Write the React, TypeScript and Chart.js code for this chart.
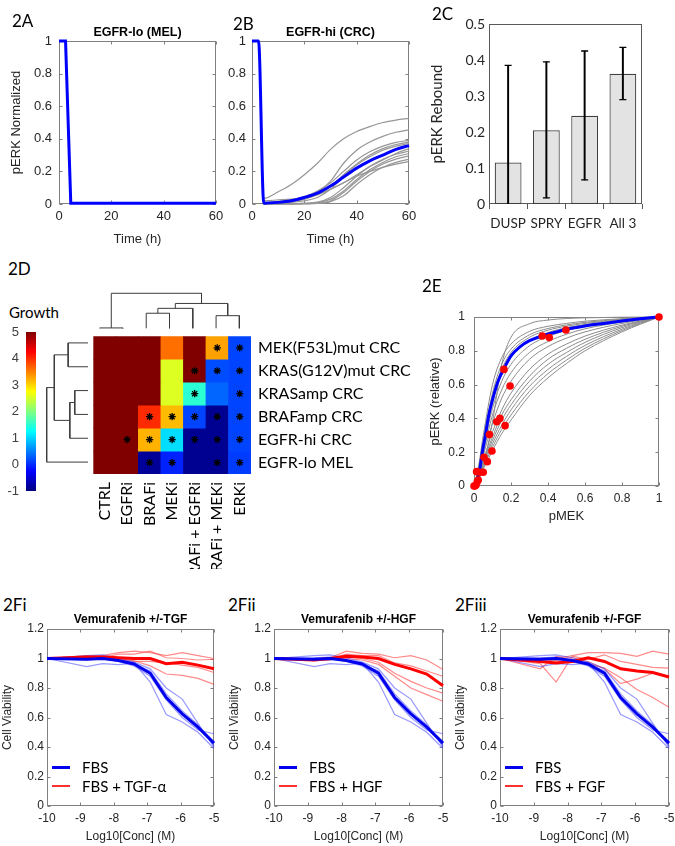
import React, { useEffect, useRef } from 'react';
import { Chart, registerables } from 'chart.js';

const ML_FONT = "'Liberation Sans', Arial, Helvetica, sans-serif";
const CAL_FONT = "Lato, 'Open Sans', sans-serif";
const TXT = '#262626';
const BOX = '#808080';

// ---------------- 2A / 2B : pERK time courses ----------------
const timeLo = [0, 2.5, 4.5, 60];
const perkLo = [1, 1, 0.005, 0.005];
const timeHi = [0, 2.5, 4.5, 10, 15, 20, 25, 30, 35, 40, 45, 50, 55, 60];
const perkHiBest = [1, 1, 0.005, 0.01, 0.02, 0.04, 0.066, 0.11, 0.165, 0.22, 0.265, 0.3, 0.335, 0.358];
const perkHiSims = [
  [1, 1, 0.035, 0.075, 0.12, 0.18, 0.25, 0.335, 0.4, 0.445, 0.475, 0.5, 0.515, 0.525],
  [1, 1, 0.005, 0.01, 0.02, 0.035, 0.07, 0.14, 0.25, 0.33, 0.38, 0.415, 0.44, 0.455],
  [1, 1, 0.01, 0.015, 0.025, 0.045, 0.08, 0.13, 0.2, 0.27, 0.32, 0.355, 0.378, 0.39],
  [1, 1, 0.005, 0.008, 0.015, 0.03, 0.06, 0.11, 0.18, 0.245, 0.3, 0.34, 0.365, 0.38],
  [1, 1, 0.003, 0.005, 0.01, 0.02, 0.04, 0.09, 0.17, 0.24, 0.29, 0.33, 0.355, 0.37],
  [1, 1, 0.02, 0.025, 0.03, 0.04, 0.06, 0.09, 0.13, 0.18, 0.23, 0.27, 0.31, 0.34],
  [1, 1, 0.0, 0.0, 0.002, 0.005, 0.012, 0.04, 0.1, 0.17, 0.23, 0.275, 0.305, 0.325],
  [1, 1, 0.0, 0.0, 0.001, 0.003, 0.008, 0.03, 0.08, 0.15, 0.21, 0.255, 0.29, 0.31],
  [1, 1, 0.0, 0.0, 0.0, 0.002, 0.005, 0.02, 0.07, 0.14, 0.2, 0.245, 0.275, 0.295],
  [1, 1, 0.0, 0.0, 0.0, 0.001, 0.003, 0.015, 0.05, 0.12, 0.18, 0.225, 0.255, 0.275],
  [1, 1, 0.01, 0.012, 0.018, 0.03, 0.055, 0.09, 0.13, 0.17, 0.2, 0.225, 0.245, 0.26],
];

// ---------------- 2C : pERK rebound ----------------
const reboundCats = ['DUSP', 'SPRY', 'EGFR', 'All 3'];
const reboundVals = [0.115, 0.205, 0.245, 0.362];
const reboundLo = [-0.155, 0.017, 0.067, 0.29];
const reboundHi = [0.385, 0.395, 0.425, 0.435];

// ---------------- 2D : growth heatmap ----------------
const drugs = ['CTRL', 'EGFRi', 'BRAFi', 'MEKi', 'BRAFi + EGFRi', 'BRAFi + MEKi', 'ERKi'];
const cellLines = ['MEK(F53L)mut CRC', 'KRAS(G12V)mut CRC', 'KRASamp CRC', 'BRAFamp CRC', 'EGFR-hi CRC', 'EGFR-lo MEL'];
const growth = [
  [5, 5, 5, 3.6, 5, 3.3, 0.15],
  [5, 5, 5, 2.55, 5, 0.2, 0.15],
  [5, 5, 5, 2.55, 1.5, 0.35, 0.15],
  [5, 5, 4.0, 3.15, 0.15, -0.9, 0.15],
  [5, 5, 3.2, 1.05, -0.9, -0.9, 0.15],
  [5, 5, -0.85, -0.05, -0.9, -0.9, 0.1],
];
const significant = [
  [0, 0, 0, 0, 0, 1, 1],
  [0, 0, 0, 0, 1, 1, 1],
  [0, 0, 0, 0, 1, 0, 1],
  [0, 0, 1, 1, 1, 1, 1],
  [0, 1, 1, 1, 1, 1, 1],
  [0, 0, 1, 1, 0, 1, 1],
];
const growthMin = -1;
const growthMax = 5;
// dendrogram links: [pos1, height1, pos2, height2, mergeHeight]
const drugLinks = [
  [0, 0, 1, 0, 0.01],
  [2, 0, 3, 0, 0.43],
  [2.5, 0.43, 4, 0, 0.57],
  [5, 0, 6, 0, 0.36],
  [3.25, 0.57, 5.5, 0.36, 0.71],
  [0.5, 0.01, 4.375, 0.71, 1.0],
];
// row positions counted from the bottom row (EGFR-lo MEL = 0.5)
const cellLinks = [
  [5.5, 0, 4.5, 0, 0.48],
  [3.5, 0, 2.5, 0, 0.32],
  [3.0, 0.32, 1.5, 0, 0.44],
  [5.0, 0.48, 2.25, 0.44, 0.816],
  [3.625, 0.816, 0.5, 0, 1.0],
];

// ---------------- 2E : pERK vs pMEK ----------------
const pmekFitGrid = [0, 0.025, 0.05, 0.1, 0.15, 0.2, 0.3, 0.4, 0.5, 0.6, 0.8, 1];
const perkFits = [
  [0, 0.04, 0.12, 0.38, 0.72, 0.88, 0.96, 0.982, 0.991, 0.995, 0.999, 1],
  [0, 0.12, 0.3, 0.6, 0.76, 0.84, 0.915, 0.945, 0.962, 0.975, 0.99, 1],
  [0, 0.1, 0.27, 0.55, 0.72, 0.81, 0.895, 0.932, 0.953, 0.968, 0.987, 1],
  [0, 0.1, 0.26, 0.53, 0.69, 0.79, 0.88, 0.922, 0.946, 0.962, 0.984, 1],
  [0, 0.09, 0.24, 0.5, 0.66, 0.76, 0.86, 0.908, 0.937, 0.955, 0.981, 1],
  [0, 0.09, 0.22, 0.46, 0.62, 0.72, 0.83, 0.885, 0.92, 0.945, 0.976, 1],
  [0, 0.08, 0.2, 0.42, 0.57, 0.67, 0.79, 0.855, 0.898, 0.93, 0.97, 1],
  [0, 0.07, 0.18, 0.37, 0.52, 0.62, 0.75, 0.825, 0.875, 0.912, 0.962, 1],
  [0, 0.06, 0.15, 0.32, 0.45, 0.55, 0.69, 0.78, 0.84, 0.887, 0.952, 1],
  [0, 0.06, 0.14, 0.29, 0.42, 0.51, 0.65, 0.75, 0.815, 0.868, 0.945, 1],
  [0, 0.05, 0.13, 0.27, 0.39, 0.48, 0.62, 0.72, 0.79, 0.85, 0.937, 1],
  [0, 0.05, 0.12, 0.25, 0.36, 0.45, 0.59, 0.69, 0.767, 0.832, 0.928, 1],
  [0, 0.045, 0.11, 0.23, 0.335, 0.42, 0.56, 0.665, 0.745, 0.815, 0.92, 1],
  [0, 0.04, 0.1, 0.21, 0.31, 0.39, 0.535, 0.64, 0.725, 0.8, 0.912, 1],
];
const pmekBestGrid = [0, 0.01, 0.02, 0.03, 0.045, 0.06, 0.08, 0.1, 0.13, 0.16, 0.2, 0.25, 0.3, 0.37, 0.45, 0.5, 0.6, 0.7, 0.8, 0.9, 1];
const perkBest = [0, 0.02, 0.05, 0.09, 0.2, 0.29, 0.42, 0.51, 0.62, 0.69, 0.77, 0.825, 0.86, 0.888, 0.913, 0.927, 0.947, 0.962, 0.976, 0.989, 1];
const pmekObs = [0, 0.005, 0.011, 0.018, 0.023, 0.014, 0.032, 0.05, 0.054, 0.072, 0.083, 0.097, 0.123, 0.14, 0.168, 0.162, 0.195, 0.369, 0.407, 0.497, 1];
const perkObs = [0, 0.0, 0.006, 0.026, 0.035, 0.085, 0.081, 0.081, 0.17, 0.144, 0.304, 0.207, 0.38, 0.4, 0.357, 0.69, 0.592, 0.888, 0.878, 0.923, 1];

// ---------------- 2F : viability vs vemurafenib ----------------
const logConc = [-10, -8.81, -8.34, -7.86, -7.39, -6.91, -6.43, -5.95, -5.48, -5];
const fbsMean = [1, 0.995, 1.0, 0.987, 0.963, 0.9, 0.735, 0.625, 0.535, 0.426];
const fbsReps = [
  [1, 0.945, 0.965, 0.958, 0.968, 0.84, 0.62, 0.57, 0.5, 0.39],
  [1, 1.02, 1.025, 1.005, 0.975, 0.93, 0.8, 0.725, 0.56, 0.4],
  [1, 0.99, 1.0, 0.98, 0.95, 0.88, 0.72, 0.6, 0.515, 0.49],
  [1, 1.005, 1.01, 0.99, 0.96, 0.915, 0.76, 0.645, 0.55, 0.41],
];
const tgfMean = [1, 1.01, 1.01, 1.005, 1.0, 1.0, 0.965, 0.975, 0.955, 0.93];
const tgfReps = [
  [1, 1.02, 1.02, 1.04, 1.05, 1.04, 1.02, 1.04, 1.02, 1.0],
  [1, 1.0, 1.005, 1.03, 1.03, 1.05, 1.005, 1.0, 0.99, 0.995],
  [1, 1.01, 1.0, 1.0, 0.985, 0.95, 0.895, 0.885, 0.865, 0.825],
  [1, 1.005, 1.01, 0.99, 0.98, 0.98, 0.97, 0.955, 0.94, 0.905],
];
const hgfMean = [1, 0.99, 1.0, 1.015, 1.01, 1.0, 0.96, 0.93, 0.895, 0.815];
const hgfReps = [
  [1, 1.0, 1.005, 1.05, 1.035, 1.03, 1.005, 1.02, 0.99, 0.925],
  [1, 0.99, 1.0, 1.03, 1.02, 1.02, 0.97, 0.95, 0.915, 0.88],
  [1, 0.985, 0.99, 1.01, 1.0, 0.975, 0.9, 0.845, 0.8, 0.765],
  [1, 0.99, 1.0, 1.0, 0.99, 0.96, 0.88, 0.8, 0.755, 0.71],
];
const fgfMean = [1, 0.98, 0.97, 0.98, 1.005, 0.98, 0.93, 0.915, 0.905, 0.875];
const fgfReps = [
  [1, 1.0, 1.0, 1.02, 1.04, 1.04, 1.035, 1.015, 1.05, 1.03],
  [1, 0.965, 0.84, 1.015, 0.995, 1.025, 0.98, 0.96, 0.94, 0.935],
  [1, 0.93, 1.015, 1.005, 0.98, 0.93, 0.83, 0.86, 0.9, 0.875],
  [1, 0.98, 0.985, 0.975, 0.965, 0.935, 0.87, 0.79, 0.735, 0.67],
];

// ---------------- helpers ----------------
const framePlugin = {
  id: 'frame',
  beforeDatasetsDraw(chart: any, _args: any, opts: any) {
    if (!opts || !opts.color) return;
    const { ctx, chartArea: a } = chart;
    const l = Math.round(a.left) + 0.5;
    const t = Math.round(a.top) + 0.5;
    const r = Math.round(a.right) - 0.5;
    const b = Math.round(a.bottom) - 0.5;
    ctx.save();
    ctx.strokeStyle = opts.color;
    ctx.lineWidth = 1;
    ctx.strokeRect(l, t, r - l, b - t);
    const len = opts.tickLen || 0;
    if (len > 0) {
      ctx.beginPath();
      const xs = chart.scales.x;
      const ys = chart.scales.y;
      xs.ticks.forEach((tk: any) => {
        const px = Math.round(xs.getPixelForValue(tk.value)) + 0.5;
        ctx.moveTo(px, b); ctx.lineTo(px, b - len);
        ctx.moveTo(px, t); ctx.lineTo(px, t + len);
      });
      ys.ticks.forEach((tk: any) => {
        const py = Math.round(ys.getPixelForValue(tk.value)) + 0.5;
        ctx.moveTo(l, py); ctx.lineTo(l + len, py);
        ctx.moveTo(r, py); ctx.lineTo(r - len, py);
      });
      ctx.stroke();
    }
    ctx.restore();
  },
};

Chart.register(...registerables, framePlugin);

function jetRGB(v: number): string {
  const t = Math.min(1, Math.max(0, (v - growthMin) / (growthMax - growthMin)));
  const c = (x: number) => Math.round(255 * Math.min(1, Math.max(0, x)));
  const r = c(1.5 - Math.abs(4 * t - 3));
  const g = c(1.5 - Math.abs(4 * t - 2));
  const b = c(1.5 - Math.abs(4 * t - 1));
  return `rgb(${r},${g},${b})`;
}

const fixW = (w: number) => (s: any) => {
  s.width = w; s.paddingTop = 0; s.paddingBottom = 0; s.paddingLeft = 0; s.paddingRight = 0;
};
const fixH = (h: number) => (s: any) => {
  s.height = h; s.paddingLeft = 0; s.paddingRight = 0; s.paddingTop = 0; s.paddingBottom = 0;
};
const plainNum = (v: any) => String(Math.round(Number(v) * 1000) / 1000);

function mlLinear(o: any) {
  return {
    type: 'linear',
    min: o.min,
    max: o.max,
    reverse: !!o.reverse,
    display: o.display ?? true,
    position: o.position,
    grid: { display: false, drawTicks: false },
    border: { display: false },
    ticks: {
      stepSize: o.step,
      color: o.color ?? TXT,
      font: { family: o.family ?? ML_FONT, size: o.size ?? 12 },
      padding: o.pad ?? 4,
      maxRotation: 0,
      autoSkip: false,
      callback: plainNum,
    },
    title: o.title
      ? { display: true, text: o.title, color: TXT, font: { family: o.titleFamily ?? ML_FONT, size: o.titleSize ?? o.size }, padding: { top: o.titlePad ?? 0, bottom: o.titlePad ?? 0 } }
      : { display: false },
    afterFit: o.fit,
  };
}

function baseOptions(padding: any, extra: any = {}) {
  return {
    responsive: false,
    animation: false,
    events: [],
    layout: { padding },
    plugins: { legend: { display: false }, tooltip: { enabled: false }, title: { display: false }, ...extra },
  };
}

function xyLine(xs: number[], ys: number[], color: string, width: number, extra: any = {}) {
  return {
    data: xs.map((x, i) => ({ x, y: ys[i] })),
    showLine: true,
    borderColor: color,
    backgroundColor: color,
    borderWidth: width,
    pointRadius: 0,
    clip: false,
    ...extra,
  };
}

type Spec = { id: string; x: number; y: number; w: number; h: number; make: () => any };

function box(area: { l: number; t: number; w: number; h: number }, m: { l: number; t: number; r: number; b: number }) {
  return { x: area.l - m.l, y: area.t - m.t, w: m.l + area.w + m.r, h: m.t + area.h + m.b };
}

// ---------- 2A ----------
const aBox = box({ l: 59, t: 41, w: 157, h: 163 }, { l: 59, t: 12, r: 10, b: 43 });
const specA: Spec = {
  id: 'A', ...aBox,
  make: () => ({
    type: 'scatter',
    data: { datasets: [xyLine(timeLo, perkLo, '#0000ff', 3)] },
    options: {
      ...baseOptions({ left: 0, top: 12, right: 10, bottom: 0 }, { frame: { color: BOX, tickLen: 3 } }),
      scales: {
        x: mlLinear({ min: 0, max: 60, step: 20, size: 13, pad: 5, fit: fixH(43), title: 'Time (h)' }),
        y: mlLinear({ min: 0, max: 1, step: 0.2, size: 13, pad: 7, fit: fixW(59), title: 'pERK Normalized', titlePad: 9 }),
      },
    },
  }),
};

// ---------- 2B ----------
const bBox = box({ l: 252, t: 41, w: 157, h: 163 }, { l: 40, t: 12, r: 10, b: 43 });
const specB: Spec = {
  id: 'B', ...bBox,
  make: () => ({
    type: 'scatter',
    data: {
      datasets: [
        xyLine(timeHi, perkHiBest, '#0000ff', 3, { cubicInterpolationMode: 'monotone' }),
        ...perkHiSims.map((s) => xyLine(timeHi, s, '#969696', 1.2, { cubicInterpolationMode: 'monotone' })),
      ],
    },
    options: {
      ...baseOptions({ left: 0, top: 12, right: 10, bottom: 0 }, { frame: { color: BOX, tickLen: 3 } }),
      scales: {
        x: mlLinear({ min: 0, max: 60, step: 20, size: 13, pad: 5, fit: fixH(43), title: 'Time (h)' }),
        y: mlLinear({ min: 0, max: 1, step: 0.2, size: 13, pad: 6, fit: fixW(40) }),
      },
    },
  }),
};

// ---------- 2C ----------
const cBox = box({ l: 489, t: 24, w: 153, h: 180 }, { l: 64, t: 10, r: 12, b: 35 });
const specC: Spec = {
  id: 'C', ...cBox,
  make: () => ({
    type: 'bar',
    data: {
      labels: reboundCats,
      datasets: [
        {
          type: 'scatter',
          data: [
            ...reboundCats.map((c, i) => ({ x: c, y: reboundHi[i] })),
            ...reboundCats.map((c, i) => ({ x: c, y: reboundLo[i] })),
          ],
          pointStyle: 'line',
          pointRadius: 3.5,
          pointBorderWidth: 1.3,
          pointBorderColor: '#000',
          pointBackgroundColor: '#000',
        },
        {
          data: reboundCats.map((_, i) => [reboundLo[i], reboundHi[i]]),
          backgroundColor: '#000',
          borderWidth: 0,
          barThickness: 1.3,
          grouped: false,
        },
        {
          data: reboundVals,
          backgroundColor: '#e3e3e3',
          borderColor: '#404040',
          borderWidth: 1.2,
          borderSkipped: false,
          barPercentage: 0.7,
          categoryPercentage: 1,
          grouped: false,
        },
      ],
    },
    options: {
      ...baseOptions({ left: 0, top: 10, right: 12, bottom: 0 }, { frame: { color: '#595959' } }),
      scales: {
        x: {
          type: 'category',
          offset: true,
          grid: { display: true, drawOnChartArea: false, drawTicks: true, tickLength: 5, color: '#595959', offset: true },
          border: { display: false },
          ticks: { color: TXT, font: { family: CAL_FONT, size: 13.5 }, padding: 7, maxRotation: 0, autoSkip: false },
          afterFit: fixH(35),
        },
        y: mlLinear({ min: 0, max: 0.5, step: 0.1, size: 14, family: CAL_FONT, pad: 4, fit: fixW(64), title: 'pERK Rebound', titleFamily: CAL_FONT, titleSize: 15, titlePad: 3 }),
      },
    },
  }),
};

// ---------- 2D colour bar ----------
const cbBox = box({ l: 26, t: 332, w: 10, h: 159 }, { l: 26, t: 8, r: 4, b: 8 });
const specCB: Spec = {
  id: 'CB', ...cbBox,
  make: () => ({
    type: 'bar',
    data: {
      labels: ['Growth'],
      datasets: [
        {
          data: [[growthMin, growthMax]],
          barPercentage: 1,
          categoryPercentage: 1,
          borderWidth: 0,
          backgroundColor: (c: any) => {
            const ch = c.chart;
            const ys = ch.scales.y;
            if (!ch.chartArea || !ys) return 'rgba(0,0,0,0)';
            const g = ch.ctx.createLinearGradient(0, ys.getPixelForValue(growthMin), 0, ys.getPixelForValue(growthMax));
            for (let i = 0; i <= 64; i++) {
              g.addColorStop(i / 64, jetRGB(growthMin + ((growthMax - growthMin) * i) / 64));
            }
            return g;
          },
        },
      ],
    },
    options: {
      ...baseOptions({ left: 0, top: 8, right: 4, bottom: 8 }, { frame: { color: '#505050' } }),
      scales: {
        x: { type: 'category', display: false },
        y: mlLinear({ min: growthMin, max: growthMax, step: 1, size: 13, pad: 7, fit: fixW(26), color: '#404040' }),
      },
    },
  }),
};

// ---------- 2D heatmap ----------
const hmBox = { x: 88, y: 331, w: 343, h: 238 };
const rowsBottomUp = [...cellLines].reverse();
const specHM: Spec = {
  id: 'HM', ...hmBox,
  make: () => {
    const starData: any[] = [];
    significant.forEach((row, r) => row.forEach((s, c) => {
      if (s) starData.push({ x: drugs[c], y: cellLines.length - 1 - r + 0.5 });
    }));
    return {
      type: 'bar',
      data: {
        labels: drugs,
        datasets: [
          {
            type: 'scatter',
            data: starData,
            pointStyle: 'star',
            pointRadius: 3.6,
            pointBorderWidth: 1.3,
            pointBorderColor: '#000',
            pointBackgroundColor: '#000',
          },
          ...growth.map((row, r) => ({
            data: drugs.map(() => [cellLines.length - 1 - r, cellLines.length - r]),
            backgroundColor: row.map((v) => jetRGB(v)),
            borderWidth: 0,
            barPercentage: 1,
            categoryPercentage: 1,
            grouped: false,
          })),
        ],
      },
      options: {
        ...baseOptions({ left: 0, top: 0, right: 0, bottom: 0 }),
        scales: {
          x: {
            type: 'category',
            offset: true,
            grid: { display: false, drawTicks: false },
            border: { display: false },
            ticks: { color: '#000', font: { family: CAL_FONT, size: 16 }, padding: 8, minRotation: 90, maxRotation: 90, autoSkip: false },
            afterFit: fixH(95),
          },
          y: {
            type: 'linear',
            position: 'right',
            min: 0,
            max: cellLines.length,
            grid: { display: false, drawTicks: false },
            border: { display: false },
            afterBuildTicks: (s: any) => { s.ticks = rowsBottomUp.map((_, i) => ({ value: i + 0.5 })); },
            ticks: { color: '#000', font: { family: CAL_FONT, size: 16 }, padding: 7, autoSkip: false, callback: (_v: any, i: number) => rowsBottomUp[i] },
            afterFit: fixW(180),
          },
        },
      },
    };
  },
};

// ---------- 2D dendrograms ----------
const dendroColor = '#3c3c3c';
const specTop: Spec = {
  id: 'DT', x: 88, y: 290, w: 163, h: 40,
  make: () => ({
    type: 'scatter',
    data: {
      datasets: drugLinks.map(([x1, h1, x2, h2, h]) => ({
        data: [{ x: x1, y: h1 }, { x: x1, y: h }, { x: x2, y: h }, { x: x2, y: h2 }],
        showLine: true, borderColor: dendroColor, borderWidth: 1, pointRadius: 0, clip: false,
      })),
    },
    options: {
      ...baseOptions(0),
      scales: {
        x: { type: 'linear', display: false, min: -0.5, max: drugs.length - 0.5 },
        y: { type: 'linear', display: false, min: -0.049, max: 1.094 },
      },
    },
  }),
};
const specLeft: Spec = {
  id: 'DL', x: 44, y: 331, w: 44, h: 143,
  make: () => ({
    type: 'scatter',
    data: {
      datasets: cellLinks.map(([y1, h1, y2, h2, h]) => ({
        data: [{ x: h1, y: y1 }, { x: h, y: y1 }, { x: h, y: y2 }, { x: h2, y: y2 }],
        showLine: true, borderColor: dendroColor, borderWidth: 1, pointRadius: 0, clip: false,
      })),
    },
    options: {
      ...baseOptions(0),
      scales: {
        x: { type: 'linear', display: false, min: 0, max: 1.065, reverse: true },
        y: { type: 'linear', display: false, min: 0, max: cellLines.length },
      },
    },
  }),
};

// ---------- 2E ----------
const eBox = box({ l: 474, t: 317, w: 185, h: 169 }, { l: 49, t: 8, r: 10, b: 38 });
const specE: Spec = {
  id: 'E', ...eBox,
  make: () => ({
    type: 'scatter',
    data: {
      datasets: [
        {
          data: pmekObs.map((x, i) => ({ x, y: perkObs[i] })),
          pointRadius: 3.8, pointBackgroundColor: '#ff0000', pointBorderColor: '#ff0000', pointBorderWidth: 0, clip: false,
        },
        xyLine(pmekBestGrid, perkBest, '#0000ff', 3, { cubicInterpolationMode: 'monotone' }),
        ...perkFits.map((f) => xyLine(pmekFitGrid, f, '#8c8c8c', 1, { cubicInterpolationMode: 'monotone' })),
      ],
    },
    options: {
      ...baseOptions({ left: 0, top: 8, right: 10, bottom: 0 }, { frame: { color: BOX, tickLen: 3 } }),
      scales: {
        x: mlLinear({ min: 0, max: 1, step: 0.2, size: 12, pad: 5, fit: fixH(38), title: 'pMEK', titleSize: 13 }),
        y: mlLinear({ min: 0, max: 1, step: 0.2, size: 12, pad: 9, fit: fixW(49), title: 'pERK (relative)', titleSize: 13, titlePad: 3 }),
      },
    },
  }),
};

// ---------- 2F ----------
function makeF(id: string, left: number, width: number, mr: number, redMean: number[], redReps: number[][]): Spec {
  const b = box({ l: left, t: 629, w: width, h: 177 }, { l: 47, t: 10, r: mr, b: 38 });
  return {
    id, ...b,
    make: () => ({
      type: 'scatter',
      data: {
        datasets: [
          xyLine(logConc, fbsMean, '#0000ee', 3),
          xyLine(logConc, redMean, '#ff0000', 3),
          ...fbsReps.map((r) => xyLine(logConc, r, 'rgba(70,70,255,0.55)', 1.2)),
          ...redReps.map((r) => xyLine(logConc, r, 'rgba(255,60,60,0.6)', 1.2)),
        ],
      },
      options: {
        ...baseOptions({ left: 0, top: 10, right: mr, bottom: 0 }, { frame: { color: BOX, tickLen: 3 } }),
        scales: {
          x: mlLinear({ min: -10, max: -5, step: 1, size: 12, pad: 5, fit: fixH(38), title: 'Log10[Conc] (M)' }),
          y: mlLinear({ min: 0, max: 1.2, step: 0.2, size: 12, pad: 3, fit: fixW(47), title: 'Cell Viability', titlePad: 0 }),
        },
      },
    }),
  };
}
const specF1 = makeF('F1', 47, 167, 8, tgfMean, tgfReps);
const specF2 = makeF('F2', 274, 169, 8, hgfMean, hgfReps);
const specF3 = makeF('F3', 500, 169, 6, fgfMean, fgfReps);

const specs: Spec[] = [specA, specB, specC, specCB, specTop, specLeft, specHM, specE, specF1, specF2, specF3];

function ChartBox({ spec }: { spec: Spec }) {
  const ref = useRef<HTMLCanvasElement>(null);
  useEffect(() => {
    if (!ref.current) return;
    const chart = new Chart(ref.current, spec.make());
    return () => chart.destroy();
  }, [spec]);
  return (
    <canvas
      ref={ref}
      width={spec.w}
      height={spec.h}
      style={{ position: 'absolute', left: spec.x, top: spec.y, width: spec.w, height: spec.h }}
    />
  );
}

function Label({ x, y, text, size = 17, family = CAL_FONT, bold = false, center = false, w = 200 }: any) {
  return (
    <div
      style={{
        position: 'absolute',
        left: center ? x - w / 2 : x,
        top: y,
        width: center ? w : undefined,
        textAlign: center ? 'center' : 'left',
        fontFamily: family,
        fontSize: size,
        fontWeight: bold ? 'bold' : 'normal',
        lineHeight: 1,
        whiteSpace: 'nowrap',
        color: '#000',
      }}
    >
      {text}
    </div>
  );
}

function Legend({ left, second }: { left: number; second: string }) {
  const row = (cy: number, color: string, thick: number, text: string) => (
    <div style={{ position: 'absolute', left: left + 5, top: cy - 9, height: 18, display: 'flex', alignItems: 'center' }}>
      <div style={{ width: 18, height: thick, background: color }} />
      <div style={{ marginLeft: 12, fontFamily: CAL_FONT, fontSize: 15, color: '#000', whiteSpace: 'nowrap' }}>{text}</div>
    </div>
  );
  return (
    <>
      {row(767, '#0000ee', 3, 'FBS')}
      {row(786, '#ff3030', 2, second)}
    </>
  );
}

export default function App() {
  return (
    <div style={{ position: 'absolute', left: 0, top: 0, width: 675, height: 846, background: '#fff', overflow: 'hidden' }}>
      {specs.map((s) => <ChartBox key={s.id} spec={s} />)}
      <Label x={12} y={12} text="2A" />
      <Label x={233} y={15} text="2B" />
      <Label x={432} y={5} text="2C" />
      <Label x={8} y={260} text="2D" />
      <Label x={422} y={277} text="2E" />
      <Label x={3} y={596} text="2Fi" />
      <Label x={228} y={596} text="2Fii" />
      <Label x={455} y={596} text="2Fiii" />
      <Label x={137.5} y={26} text="EGFR-lo (MEL)" size={12.5} family={ML_FONT} bold center />
      <Label x={330.5} y={26} text="EGFR-hi (CRC)" size={12.5} family={ML_FONT} bold center />
      <Label x={130.5} y={613} text="Vemurafenib +/-TGF" size={12} family={ML_FONT} bold center />
      <Label x={358.5} y={613} text="Vemurafenib +/-HGF" size={12} family={ML_FONT} bold center />
      <Label x={584.5} y={613} text="Vemurafenib +/-FGF" size={12} family={ML_FONT} bold center />
      <Label x={9} y={305} text="Growth" size={15} />
      <Legend left={47} second="FBS + TGF-α" />
      <Legend left={274} second="FBS + HGF" />
      <Legend left={500} second="FBS + FGF" />
    </div>
  );
}
